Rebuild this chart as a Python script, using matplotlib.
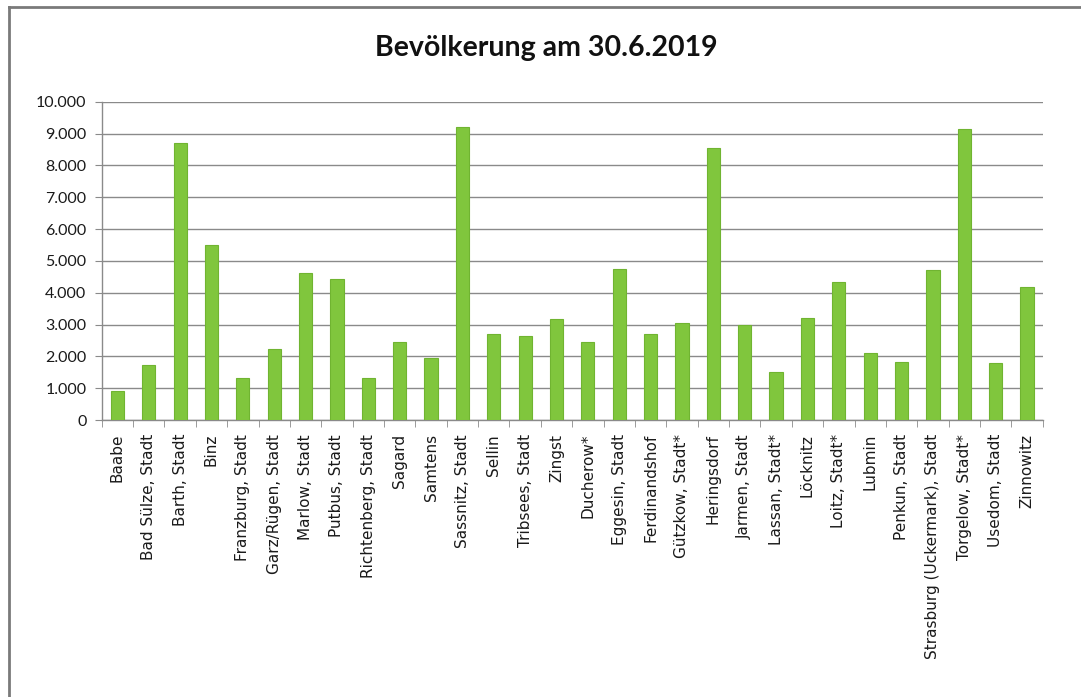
import matplotlib
matplotlib.use("Agg")
import matplotlib.pyplot as plt
from matplotlib.lines import Line2D
from matplotlib.ticker import FuncFormatter, MultipleLocator, FixedLocator

# Einwohner je Gemeinde (Stand 30.6.2019)
gemeinden = [
    "Baabe", "Bad Sülze, Stadt", "Barth, Stadt", "Binz", "Franzburg, Stadt",
    "Garz/Rügen, Stadt", "Marlow, Stadt", "Putbus, Stadt", "Richtenberg, Stadt",
    "Sagard", "Samtens", "Sassnitz, Stadt", "Sellin", "Tribsees, Stadt", "Zingst",
    "Ducherow*", "Eggesin, Stadt", "Ferdinandshof", "Gützkow, Stadt*",
    "Heringsdorf", "Jarmen, Stadt", "Lassan, Stadt*", "Löcknitz", "Loitz, Stadt*",
    "Lubmin", "Penkun, Stadt", "Strasburg (Uckermark), Stadt", "Torgelow, Stadt*",
    "Usedom, Stadt", "Zinnowitz",
]
einwohner = [
    920, 1730, 8700, 5500, 1330,
    2220, 4630, 4420, 1310,
    2440, 1960, 9220, 2690, 2650, 3170,
    2460, 4740, 2690, 3060,
    8540, 2970, 1500, 3200, 4320,
    2100, 1830, 4720, 9140,
    1780, 4170,
]

W, H = 1081, 697
fig = plt.figure(figsize=(W / 100, H / 100), dpi=100)
fig.patch.set_facecolor("white")

ax = fig.add_axes([101.7 / W, 1 - 420 / H, (1042.7 - 101.7) / W, (420 - 101.7) / H])

x = range(len(gemeinden))
ax.bar(x, einwohner, width=0.42, color="#80c63d", edgecolor="#70b431",
       linewidth=0.8, zorder=3)

ax.set_xlim(-0.5, len(gemeinden) - 0.5)
ax.set_ylim(0, 10000)
ax.yaxis.set_major_locator(MultipleLocator(1000))
ax.yaxis.set_major_formatter(FuncFormatter(lambda v, _: f"{int(v):,}".replace(",", ".")))
ax.grid(axis="y", color="#8a8a8a", linewidth=1.0, zorder=0)

for s in ("top", "right"):
    ax.spines[s].set_visible(False)
for s in ("left", "bottom"):
    ax.spines[s].set_color("#8a8a8a")
    ax.spines[s].set_linewidth(1.0)

# Kategorienamen mittig, Trennstriche zwischen den Säulen
ax.set_xticks(list(x))
ax.set_xticklabels(gemeinden, rotation=90, fontsize=11, family="DejaVu Sans",
                   color="#1a1a1a")
ax.xaxis.set_minor_locator(FixedLocator([i - 0.5 for i in range(len(gemeinden) + 1)]))
ax.tick_params(axis="x", which="major", length=0, pad=10)
ax.tick_params(axis="x", which="minor", length=5, color="#8a8a8a", direction="out")
ax.tick_params(axis="y", length=5, color="#8a8a8a", labelsize=11.5, pad=6,
               labelcolor="#1a1a1a")
for lbl in ax.get_yticklabels():
    lbl.set_family("Lato")

fig.text(546 / W, 1 - 48 / H, "Bevölkerung am 30.6.2019", ha="center", va="center",
         fontsize=20.5, fontweight="bold", family="Lato", color="#111111")

# Rahmen um das Diagramm (oben und links)
fig.add_artist(Line2D([9 / W, 9 / W], [0, 1 - 7 / H], transform=fig.transFigure,
                      color="#7a7a7a", linewidth=2))
fig.add_artist(Line2D([9 / W, 1], [1 - 7 / H, 1 - 7 / H], transform=fig.transFigure,
                      color="#7a7a7a", linewidth=2))

fig.savefig("out.png", dpi=100)
